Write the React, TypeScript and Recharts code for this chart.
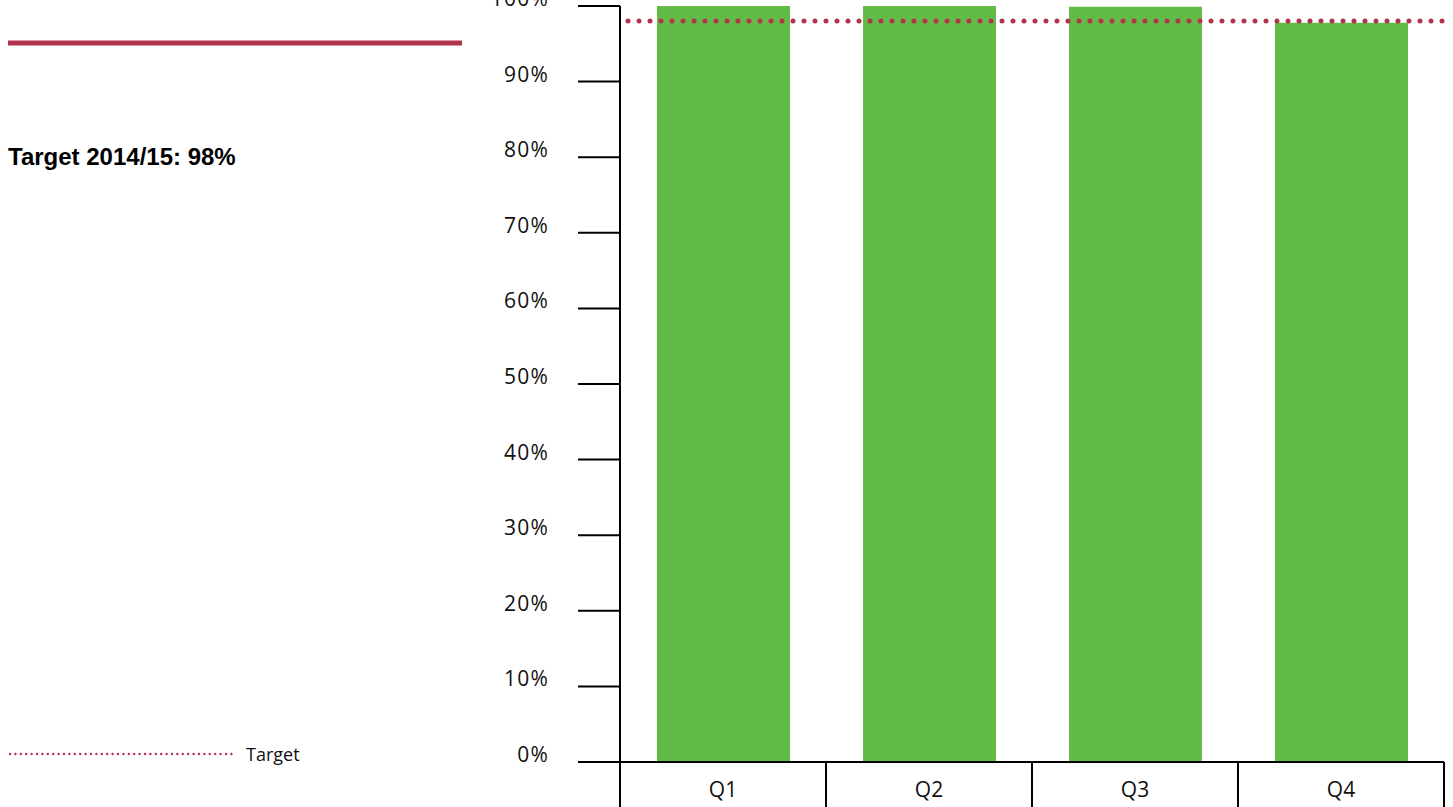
import React from 'react';
import { ComposedChart, Bar, XAxis, YAxis, ReferenceLine } from 'recharts';

// Quarterly performance against the annual target (percent)
const quarters = ['Q1', 'Q2', 'Q3', 'Q4'];
const performance = [100, 100, 99.9, 97.8];
const targetValue = 98;
const yTicks = [0, 10, 20, 30, 40, 50, 60, 70, 80, 90, 100];
const targetTitle = 'Target 2014/15: 98%';
const legendLabel = 'Target';

const data = quarters.map((quarter, i) => ({ quarter, value: performance[i] }));

const WIDTH = 1453;
const HEIGHT = 807;
const MARGIN = { top: 6, right: 9, bottom: 0, left: 500 };
const X_AXIS_HEIGHT = 45;
const PLOT_BOTTOM = HEIGHT - MARGIN.bottom - X_AXIS_HEIGHT;
const BAND = (WIDTH - MARGIN.left - 120 - MARGIN.right) / quarters.length;

const ACCENT = '#b3334f';
const GREEN = '#63bb47';
const TICK_FONT = '"Open Sans", "Noto Sans", sans-serif';

const YTick = (props: any) => {
  const { x, y, payload } = props;
  return (
    <text
      x={x}
      y={y - 8}
      textAnchor="end"
      dominantBaseline="central"
      fontFamily={TICK_FONT}
      fontSize={21}
      letterSpacing={1.2}
      fill="#111"
    >
      {`${payload.value}%`}
    </text>
  );
};

const XTick = (props: any) => {
  const { x, payload, index } = props;
  const half = payload.offset ? payload.offset : BAND / 2;
  return (
    <g>
      <line x1={x - half} y1={PLOT_BOTTOM} x2={x - half} y2={HEIGHT} stroke="#000" strokeWidth={2} />
      {index === quarters.length - 1 && (
        <line x1={x + half} y1={PLOT_BOTTOM} x2={x + half} y2={HEIGHT} stroke="#000" strokeWidth={2} />
      )}
      <text
        x={x}
        y={PLOT_BOTTOM + 27}
        textAnchor="middle"
        dominantBaseline="central"
        fontFamily={TICK_FONT}
        fontSize={21}
        fill="#111"
      >
        {payload.value}
      </text>
    </g>
  );
};

export default function App() {
  return (
    <div style={{ position: 'absolute', left: 0, top: 0, width: WIDTH, height: HEIGHT, background: '#fff', overflow: 'hidden' }}>
      <svg width={480} height={HEIGHT} style={{ position: 'absolute', left: 0, top: 0 }}>
        <line x1={8} y1={43} x2={462} y2={43} stroke={ACCENT} strokeWidth={5} />
        <text
          x={8}
          y={156}
          dominantBaseline="central"
          fontFamily='"Liberation Sans", Arial, sans-serif'
          fontWeight="bold"
          fontSize={24}
          fill="#000"
        >
          {targetTitle}
        </text>
        <line
          x1={10}
          y1={754}
          x2={236}
          y2={754}
          stroke={ACCENT}
          strokeWidth={2.4}
          strokeDasharray="0 5.4"
          strokeLinecap="round"
        />
        <text x={246} y={754} dominantBaseline="central" fontFamily={TICK_FONT} fontSize={18} fill="#111">
          {legendLabel}
        </text>
      </svg>
      <div style={{ position: 'absolute', left: 0, top: 0 }}>
        <ComposedChart width={WIDTH} height={HEIGHT} data={data} margin={MARGIN}>
          <XAxis
            dataKey="quarter"
            height={X_AXIS_HEIGHT}
            axisLine={{ stroke: '#000', strokeWidth: 2 }}
            tickLine={false}
            tick={<XTick />}
            interval={0}
          />
          <YAxis
            type="number"
            domain={[0, 100]}
            ticks={yTicks}
            allowDataOverflow
            width={120}
            axisLine={{ stroke: '#000', strokeWidth: 2 }}
            tickLine={{ stroke: '#000', strokeWidth: 2 }}
            tickSize={42}
            tickMargin={29}
            tick={<YTick />}
            interval={0}
          />
          <Bar dataKey="value" fill={GREEN} barSize={133} isAnimationActive={false} />
          <ReferenceLine
            y={targetValue}
            stroke={ACCENT}
            strokeWidth={5}
            strokeDasharray="0 11"
            strokeDashoffset={3}
            strokeLinecap="round"
          />
        </ComposedChart>
      </div>
    </div>
  );
}
